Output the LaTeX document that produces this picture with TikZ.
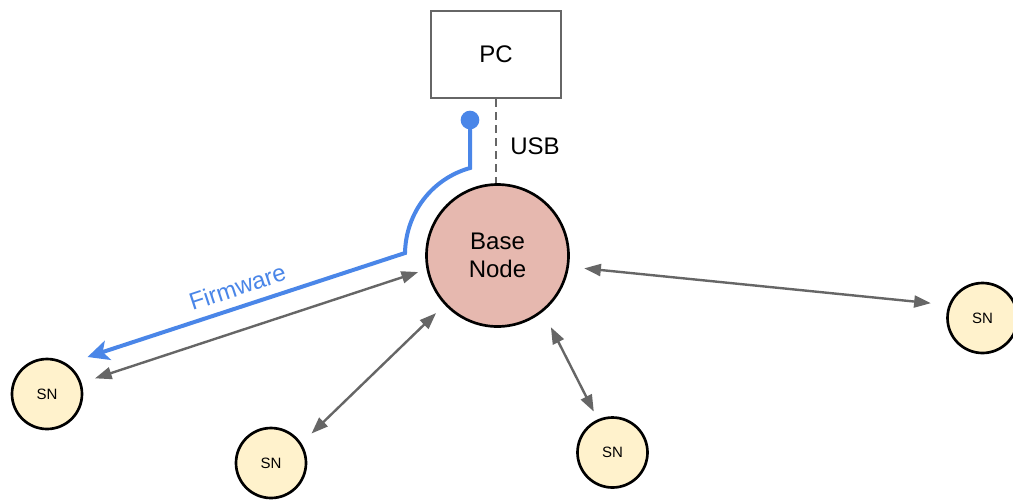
\documentclass[tikz,border=0pt]{standalone}
\usepackage{fontspec}
\setmainfont{Liberation Sans}
\usetikzlibrary{arrows.meta}
\definecolor{linkgray}{HTML}{666666}
\definecolor{fwblue}{HTML}{4A86E8}
\definecolor{basefill}{HTML}{E6B8AF}
\definecolor{snfill}{HTML}{FFF2CC}

\begin{document}
\begin{tikzpicture}[x=0.75pt, y=-0.75pt,
  bigtext/.style={font=\fontsize{18}{21.5}\selectfont},
  pcbox/.style={draw=linkgray, line width=1.6pt, minimum width=97.5pt,
    minimum height=65.25pt, inner sep=0pt, bigtext},
  basenode/.style={circle, draw=black, line width=2pt, fill=basefill,
    minimum size=106.5pt, inner sep=0pt, align=center, bigtext},
  sensor/.style={circle, draw=black, line width=2pt, fill=snfill,
    minimum size=52.5pt, inner sep=0pt, font=\fontsize{11.25}{13.5}\selectfont},
  link/.style={draw=linkgray, line width=1.8pt,
    {Triangle[length=12.5pt,width=9pt]}-{Triangle[length=12.5pt,width=9pt]}},
  usblink/.style={draw=linkgray, line width=1.8pt, dash pattern=on 6pt off 3.75pt},
  fwpath/.style={draw=fwblue, line width=3pt,
    -{Stealth[length=16pt,width=15pt,inset=4pt]}},
  fwlabel/.style={text=fwblue, bigtext, inner sep=0pt}
]
% canvas
\fill[white] (0,0) rectangle (1013,501);
\useasboundingbox (0,0) rectangle (1013,501);

% nodes
\node[pcbox] (pc) at (496,54.5) {PC};
\node[basenode] (base) at (497.5,255.5) {Base\\Node};
\node[sensor] (sn1) at (47,394) {SN};
\node[sensor] (sn2) at (271,463) {SN};
\node[sensor] (sn3) at (612.5,452.5) {SN};
\node[sensor] (sn4) at (982.5,318) {SN};

% USB link between PC and base node
\draw[usblink] (pc.south) -- (pc.south |- base.north);
\node[bigtext] (usb) at (535,146) {USB};

% radio links
\draw[link, shorten <=10.6pt, shorten >=6.6pt] (sn1.18.5) -- (base.191);
\draw[link, shorten <=10.5pt, shorten >=8.9pt] (sn2.33.3) -- (base.223.9);
\draw[link, shorten <=6.5pt, shorten >=13pt] (sn3.114.9) -- (base.309.9);
\draw[link, shorten <=13.4pt, shorten >=11.5pt] (sn4.159.3) -- (base.351);

% firmware update path
\coordinate (fwstart) at (470,120);
\coordinate (fwend) at (87.5,357);
\fill[fwblue] (fwstart) circle[radius=7pt];
\draw[fwpath] (fwstart) -- (470,168)
  .. controls (431.8,178.7) and (405.8,213) .. (405,253) -- (fwend);
\node[fwlabel, rotate=18.3] (fw) at (237.5,287) {Firmware};
\end{tikzpicture}
\end{document}
